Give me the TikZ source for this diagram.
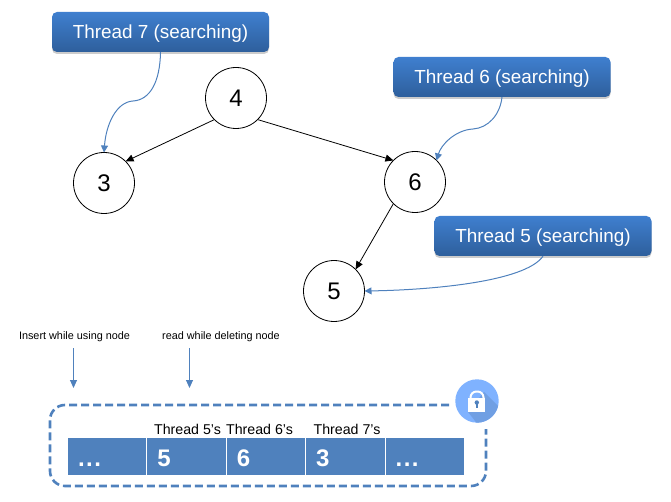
\documentclass[tikz,border=0pt]{standalone}
\usepackage{fontspec}
\setmainfont{Liberation Sans}
\usetikzlibrary{arrows.meta, positioning, shadows}
\definecolor{cellblue}{HTML}{4F81BD}
\definecolor{celledge}{HTML}{C4D4E8}
\definecolor{boxtop}{HTML}{3F7FCF}
\definecolor{boxbottom}{HTML}{2E5F9C}
\definecolor{lockblue}{HTML}{7FB2FF}
\definecolor{lockdark}{HTML}{709FE3}
\tikzset{%
  >={Triangle[width=7pt,length=8pt]},
  % Specifications for style of nodes:
	tree/.style = {draw, circle, minimum size=61pt, inner sep=0pt, outer sep=0pt, line width=0.8pt,
                   font=\fontsize{24}{28}\selectfont},
	thread/.style = {rounded corners=5pt, minimum width=217pt, minimum height=40pt, inner sep=0pt,
                   top color=boxtop, bottom color=boxbottom, text=white,
                   general shadow={shadow xshift=0pt, shadow yshift=-2pt, fill=black, opacity=0.2},
                   text height=14pt, text depth=0pt, font=\fontsize{18.9}{22}\selectfont},
	cell/.style = {fill=cellblue, outer sep=0pt, minimum height=37pt,
                   inner xsep=10pt, inner ysep=0pt, text width=58.4pt, align=left, text=white,
                   text height=19pt, text depth=0pt, font=\fontsize{24}{28}\selectfont\bfseries},
	note/.style = {inner sep=0pt, font=\fontsize{10.85}{13}\selectfont},
	owner/.style = {inner sep=0pt, font=\fontsize{14.2}{17}\selectfont},
	norm/.style = {->, draw, black, line width=0.8pt},
	walk/.style = {-{Triangle[width=7pt,length=7pt]}, draw=cellblue, line width=1pt},
	slot/.style = {-{Triangle[width=7pt,length=8pt]}, draw=cellblue, line width=1pt}
}

\begin{document}
\begin{tikzpicture}[x=1pt, y=-1pt]
  \useasboundingbox (0,0) rectangle (671,502);

  % tree
  \node (n4) [tree] at (236,98) {4};
  \node (n3) [tree] at (104,183) {3};
  \node (n6) [tree] at (415,182) {6};
  \node (n5) [tree] at (334,291) {5};

  \draw [norm] (n4.south west) -- (n3.north east);
  \draw [norm] (n4.south east) -- (n6.north west);
  \draw [norm] (n6.south west) -- (n5.north east);

  % searching threads
  \node (t7) [thread] at (160.5,32) {Thread 7 (searching)};
  \node (t6) [thread] at (502,77) {Thread 6 (searching)};
  \node (t5) [thread] at (543,236) {Thread 5 (searching)};

  \draw [walk] (t7.south) .. controls (160,82) and (150,100) .. (133,101)
     .. controls (116,102) and (106,125) .. (n3.north);
  \draw [walk] (t6.south) .. controls (500,115) and (488,128) .. (473,129)
     .. controls (455,130) and (441,145) .. (n6.north east);
  \draw [walk] (t5.south) .. controls (525,282) and (430,290) .. (n5.east);

  % queue
  \node (c1) [cell, anchor=west] at (68,456.5) {.\kern1.5pt.\kern1.5pt.};
  \node (c2) [cell, right=1pt of c1] {5};
  \node (c3) [cell, right=1pt of c2] {6};
  \node (c4) [cell, right=1pt of c3] {3};
  \node (c5) [cell, right=1pt of c4] {.\kern1.5pt.\kern1.5pt.};

  \node (o5) [owner] at (187.5,429) {Thread 5’s};
  \node (o6) [owner] at (259.5,429) {Thread 6’s};
  \node (o7) [owner] at (347,429) {Thread 7’s};

  % guard round the queue
  \coordinate (g1) at (449,405);
  \coordinate (g2) at (50,486);
  \coordinate (g3) at (486,429);
  \draw [cellblue, line width=2.6pt, dash pattern=on 8pt off 4pt, rounded corners=15pt]
     (g1) -| (g2) -| (g3);

  % lock
  \node (lock) [circle, fill=lockblue, minimum size=43.4pt, inner sep=0pt] at (477,401) {};
  \begin{scope}
    \clip (lock.center) circle (21.7pt);
    \fill [lockdark] (484,392) -- (510,418) -- (490,440) -- (468,412) -- cycle;
  \end{scope}
  \draw [white, line width=2pt, rounded corners=6pt] (470.5,399) -- (470.5,391.5) -- (483.5,391.5) -- (483.5,399);
  \fill [white] (468,398) rectangle (485,412);
  \fill [cellblue] (476.8,402.5) circle (2.2pt);
  \fill [cellblue] (475.9,403) rectangle (477.7,408);

  % cursors
  \node (ins) [note] at (74.5,337) {Insert while using node};
  \node (del) [note] at (221,337) {read while deleting node};
  \coordinate (insend) at (73.5,388);
  \coordinate (delend) at (189.5,388);
  \draw [slot] (insend |- 0,348) -- (insend);
  \draw [slot] (delend |- 0,348) -- (delend);
\end{tikzpicture}
\end{document}
